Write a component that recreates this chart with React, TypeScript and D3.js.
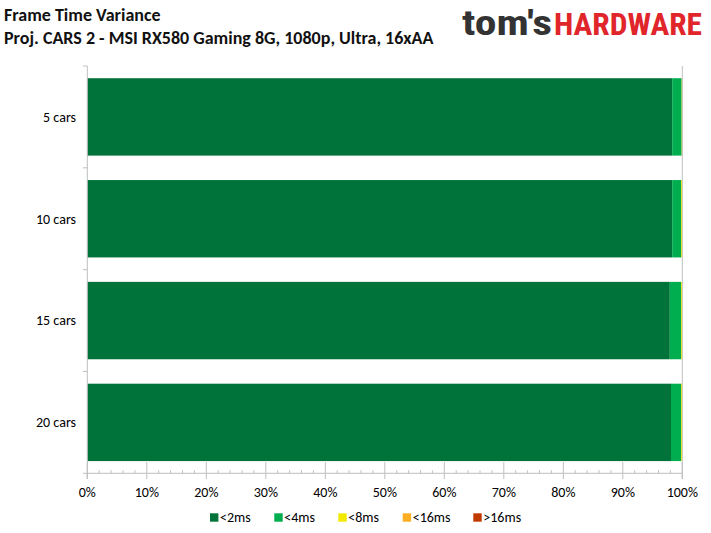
import React from 'react';
import * as d3 from 'd3';

// Chart data
const categories = ['5 cars', '10 cars', '15 cars', '20 cars'];
const seriesNames = ['<2ms', '<4ms', '<8ms', '<16ms', '>16ms'];
const seriesColors = ['#00733A', '#00AD4F', '#F4EA00', '#FDAE22', '#C03A00'];
const lt2ms = [98.3, 98.3, 97.9, 98.1];
const lt4ms = [1.6, 1.5, 1.9, 1.7];
const lt8ms = [0.05, 0.2, 0.2, 0.2];
const lt16ms = [0.05, 0, 0, 0];
const gt16ms = [0, 0, 0, 0];
const xTicks = [0, 10, 20, 30, 40, 50, 60, 70, 80, 90, 100];

const W = 711;
const H = 533;
const FONT = 'Calibri, Carlito, Lato, "Open Sans", sans-serif';
const AXIS_GREY = '#BFBFBF';

const App: React.FC = () => {
  const table = categories.map((c, i) => {
    const vals = [lt2ms[i], lt4ms[i], lt8ms[i], lt16ms[i], gt16ms[i]];
    const o: Record<string, number | string> = { cat: c };
    vals.forEach((v, k) => { o[String(k)] = v; });
    return o;
  });
  const keys = seriesNames.map((_, i) => String(i));
  const stacked = d3.stack<Record<string, number | string>>()
    .keys(keys)
    .value((d, k) => d[k] as number)(table);

  const x = d3.scaleLinear().domain([0, 100]).range([87.3, 682.3]);
  const y = d3.scaleBand<string>()
    .domain(categories)
    .range([66, 473.3])
    .paddingInner(0.24)
    .paddingOuter(0.12);

  const axisY = 473.3;
  const minorTicks = d3.range(0, 100, 2).filter(v => v % 10 !== 0);
  const boundaries = d3.range(categories.length).map(i => y.range()[0] + i * y.step());

  return (
    <svg
      width={W}
      height={H}
      style={{ position: 'absolute', left: 0, top: 0, background: '#fff' }}
      fontFamily={FONT}
    >
      {/* Titles */}
      <text x={4} y={21} fontSize={18} fontWeight={700} fill="#111">Frame Time Variance</text>
      <text x={4} y={44} fontSize={18} fontWeight={700} fill="#111">
        Proj. CARS 2 - MSI RX580 Gaming 8G, 1080p, Ultra, 16xAA
      </text>

      {/* Logo */}
      <text
        x={462}
        y={35}
        fontFamily='"Roboto Condensed", Roboto, "Liberation Sans", sans-serif'
        fontSize={35}
        fontWeight={700}
        fill="#333"
        textLength={90}
        lengthAdjust="spacingAndGlyphs"
      >
        tom's
      </text>
      <text
        x={554}
        y={35}
        fontFamily='"Roboto Condensed", Roboto, "Liberation Sans", sans-serif'
        fontSize={32}
        fontWeight={700}
        fill="#E0262B"
        textLength={148}
        lengthAdjust="spacingAndGlyphs"
      >
        HARDWARE
      </text>

      {/* Stacked bars */}
      {stacked.map((layer, si) => (
        <g key={si} fill={seriesColors[si]}>
          {layer.map((d, ci) => {
            const w = x(d[1]) - x(d[0]);
            if (w <= 0) return null;
            return (
              <rect
                key={ci}
                x={x(d[0])}
                y={y(categories[ci])}
                width={w}
                height={y.bandwidth()}
              />
            );
          })}
        </g>
      ))}

      {/* 100% line */}
      <line x1={x(100)} x2={x(100)} y1={66} y2={479} stroke={AXIS_GREY} strokeWidth={1} />

      {/* Y axis */}
      <line x1={x(0)} x2={x(0)} y1={66} y2={479} stroke={AXIS_GREY} strokeWidth={1} />
      {boundaries.map((b, i) => (
        <line key={i} x1={83} x2={x(0)} y1={b} y2={b} stroke={AXIS_GREY} strokeWidth={1} />
      ))}
      {categories.map(c => (
        <text
          key={c}
          x={76}
          y={(y(c) ?? 0) + y.bandwidth() / 2}
          dy="0.35em"
          textAnchor="end"
          fontSize={14}
          fill="#000"
        >
          {c}
        </text>
      ))}

      {/* X axis */}
      <line x1={83} x2={x(100)} y1={axisY} y2={axisY} stroke={AXIS_GREY} strokeWidth={1} />
      {xTicks.map(t => (
        <line key={t} x1={x(t)} x2={x(t)} y1={462} y2={479} stroke={AXIS_GREY} strokeWidth={1} />
      ))}
      {minorTicks.map(t => (
        <line key={t} x1={x(t)} x2={x(t)} y1={470.3} y2={axisY} stroke={AXIS_GREY} strokeWidth={1} />
      ))}
      {xTicks.map(t => (
        <text key={t} x={x(t)} y={497} textAnchor="middle" fontSize={14} fill="#000">
          {d3.format('d')(t)}%
        </text>
      ))}

      {/* Legend */}
      {seriesNames.map((n, i) => {
        const lx = [210, 274.3, 338.3, 402.7, 473.3][i];
        return (
          <g key={n}>
            <rect x={lx} y={513.3} width={8.4} height={8.4} fill={seriesColors[i]} />
            <text x={lx + 10} y={522} fontSize={14} fill="#000">{n}</text>
          </g>
        );
      })}
    </svg>
  );
};

export default App;
